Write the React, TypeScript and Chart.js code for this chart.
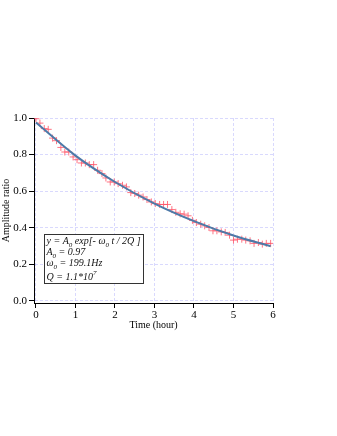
import React, { useEffect, useRef } from 'react';
import { Chart, registerables } from 'chart.js';

Chart.register(...registerables);

// Measured time points (hour)
const timeHours = [
  0, 0.10, 0.21, 0.31, 0.42, 0.52, 0.63, 0.73, 0.83, 0.94,
  1.04, 1.15, 1.25, 1.35, 1.46, 1.56, 1.67, 1.77, 1.88, 1.98,
  2.08, 2.19, 2.29, 2.40, 2.50, 2.60, 2.71, 2.81, 2.92, 3.02,
  3.13, 3.23, 3.33, 3.44, 3.54, 3.65, 3.75, 3.85, 3.96, 4.06,
  4.17, 4.27, 4.38, 4.48, 4.58, 4.69, 4.79, 4.90, 5.00, 5.10,
  5.21, 5.31, 5.42, 5.52, 5.63, 5.73, 5.83, 5.94,
];

// Measured amplitude ratio
const amplitude = [
  0.996, 0.972, 0.942, 0.938, 0.890, 0.876, 0.839, 0.814, 0.814, 0.787,
  0.772, 0.754, 0.754, 0.745, 0.745, 0.714, 0.696, 0.672, 0.650, 0.650,
  0.641, 0.632, 0.623, 0.592, 0.587, 0.578, 0.568, 0.554, 0.541, 0.532,
  0.527, 0.527, 0.527, 0.499, 0.484, 0.476, 0.474, 0.465, 0.440, 0.428,
  0.419, 0.410, 0.401, 0.383, 0.383, 0.377, 0.374, 0.359, 0.332, 0.337,
  0.337, 0.332, 0.328, 0.314, 0.319, 0.310, 0.314, 0.314,
];

// Fitted curve
const fitTime = [0, 1, 2, 3, 4, 5, 5.94];
const fitValue = [0.975, 0.794, 0.650, 0.532, 0.436, 0.357, 0.298];

const xTicks = [0, 1, 2, 3, 4, 5, 6];
const yTicks = [0, 0.2, 0.4, 0.6, 0.8, 1.0];

const boxLines: { t: string; s: 'n' | 'sub' | 'sup' }[][] = [
  [
    { t: 'y = A', s: 'n' }, { t: '0', s: 'sub' }, { t: ' exp[- ', s: 'n' },
    { t: 'ω', s: 'n' }, { t: '0', s: 'sub' }, { t: ' t / 2Q ]', s: 'n' },
  ],
  [{ t: 'A', s: 'n' }, { t: '0', s: 'sub' }, { t: ' = 0.97', s: 'n' }],
  [{ t: 'ω', s: 'n' }, { t: '0', s: 'sub' }, { t: ' = 199.1Hz', s: 'n' }],
  [{ t: 'Q = 1.1*10', s: 'n' }, { t: '7', s: 'sup' }],
];
const boxBaselines = [10, 21, 32, 45.5];

const SERIF = '"Liberation Serif", "Times New Roman", serif';

const fitBoxPlugin = {
  id: 'fitBox',
  afterDraw(chart: any) {
    const ctx = chart.ctx as CanvasRenderingContext2D;
    const { left, top } = chart.chartArea;
    const bx = left + 10;
    const by = top + 116;
    const bw = 99;
    const bh = 49;
    ctx.save();
    ctx.fillStyle = '#ffffff';
    ctx.fillRect(bx, by, bw, bh);
    ctx.strokeStyle = '#333333';
    ctx.lineWidth = 1;
    ctx.strokeRect(bx + 0.5, by + 0.5, bw, bh);
    ctx.fillStyle = '#111111';
    ctx.textBaseline = 'alphabetic';
    ctx.textAlign = 'left';
    boxLines.forEach((segs, i) => {
      let x = bx + 2.5;
      const base = by + boxBaselines[i];
      segs.forEach((seg) => {
        let y = base;
        if (seg.s === 'n') {
          ctx.font = `italic 10px ${SERIF}`;
        } else {
          ctx.font = `italic 7px ${SERIF}`;
          y = seg.s === 'sub' ? base + 2.5 : base - 5;
        }
        ctx.fillText(seg.t, x, y);
        x += ctx.measureText(seg.t).width;
      });
    });
    ctx.restore();
  },
};

export default function App() {
  const ref = useRef<HTMLCanvasElement | null>(null);

  useEffect(() => {
    if (!ref.current) return;
    const measured = timeHours.map((t, i) => ({ x: t, y: amplitude[i] }));
    const fit = fitTime.map((t, i) => ({ x: t, y: fitValue[i] }));
    const gridColor = 'rgba(170,170,250,0.45)';

    const chart = new Chart(ref.current, {
      type: 'scatter',
      data: {
        datasets: [
          {
            label: 'fit',
            data: fit,
            showLine: true,
            borderColor: '#4d7aa8',
            borderWidth: 2,
            pointRadius: 0,
            cubicInterpolationMode: 'monotone',
            fill: false,
          } as any,
          {
            label: 'data',
            data: measured,
            showLine: false,
            pointStyle: 'cross',
            pointRadius: 3.5,
            borderColor: 'rgba(255,80,100,0.8)',
            backgroundColor: 'rgba(255,80,100,0.8)',
            pointBorderWidth: 1,
          } as any,
        ],
      },
      options: {
        responsive: false,
        animation: false,
        devicePixelRatio: 1,
        layout: { padding: { left: 0, top: 118, right: 64, bottom: 101 } },
        plugins: {
          legend: { display: false },
          tooltip: { enabled: false },
        },
        scales: {
          x: {
            type: 'linear',
            min: -0.05,
            max: 6,
            afterBuildTicks: (s: any) => {
              s.ticks = xTicks.map((v) => ({ value: v }));
            },
            afterFit: (s: any) => {
              s.height = 32;
            },
            grid: {
              color: gridColor,
              drawTicks: true,
              tickLength: 5,
              tickColor: '#000',
              tickWidth: 1,
            },
            border: { display: true, color: '#000', width: 1, dash: [3, 2] },
            ticks: {
              color: '#000',
              padding: 1,
              font: { family: SERIF, size: 11 },
              callback: (v: any) => String(v),
            },
            title: {
              display: true,
              text: 'Time (hour)',
              color: '#000',
              font: { family: SERIF, size: 10 },
              padding: { top: 0, bottom: 4 },
            },
          },
          y: {
            type: 'linear',
            min: -0.012,
            max: 1.0,
            afterBuildTicks: (s: any) => {
              s.ticks = yTicks.map((v) => ({ value: v }));
            },
            afterFit: (s: any) => {
              s.width = 34;
            },
            grid: {
              color: gridColor,
              drawTicks: true,
              tickLength: 5,
              tickColor: '#000',
              tickWidth: 1,
            },
            border: { display: true, color: '#000', width: 1, dash: [3, 2] },
            ticks: {
              color: '#000',
              padding: 2,
              font: { family: SERIF, size: 11 },
              callback: (v: any) => Number(v).toFixed(1),
            },
            title: {
              display: true,
              text: 'Amplitude ratio',
              color: '#000',
              font: { family: SERIF, size: 10 },
              padding: { top: 0, bottom: 0 },
            },
          },
        },
      },
      plugins: [fitBoxPlugin],
    });
    return () => chart.destroy();
  }, []);

  return (
    <div style={{ position: 'fixed', left: 0, top: 0, width: 337, height: 436, background: '#fff' }}>
      <canvas ref={ref} width={337} height={436} style={{ width: 337, height: 436 }} />
    </div>
  );
}
